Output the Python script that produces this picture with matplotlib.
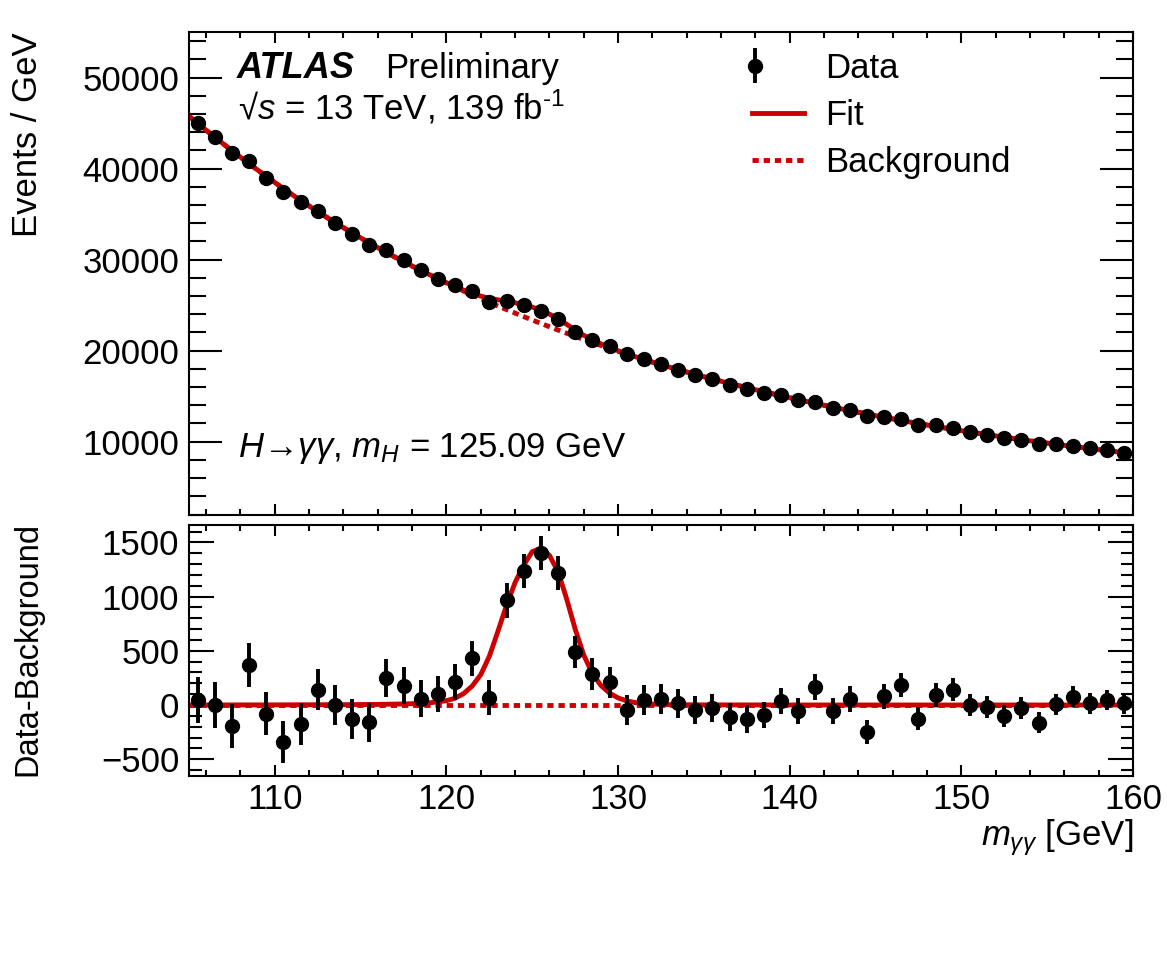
import numpy as np
import matplotlib.pyplot as plt
from matplotlib.ticker import MultipleLocator
from matplotlib.lines import Line2D
from matplotlib.legend_handler import HandlerErrorbar

plt.rcParams['font.family'] = ['Liberation Sans', 'DejaVu Sans']
plt.rcParams['mathtext.fontset'] = 'custom'
plt.rcParams['mathtext.rm'] = 'Liberation Sans'
plt.rcParams['mathtext.it'] = 'Liberation Sans:italic'
plt.rcParams['mathtext.bf'] = 'Liberation Sans:bold'

# bin centres, 1 GeV bins from 105 to 160
mass = np.arange(105.5, 160.0, 1.0)

# events per GeV
events = np.array([
    45000, 43480, 41720, 40840, 38950, 37410, 36310, 35360, 34040, 32770,
    31630, 31010, 29980, 28810, 27890, 27170, 26500, 25350, 25480, 24970,
    24380, 23430, 22040, 21160, 20470, 19590, 19040, 18500, 17900, 17320,
    16850, 16260, 15820, 15380, 15090, 14540, 14360, 13730, 13450, 12820,
    12740, 12460, 11870, 11800, 11500, 11060, 10770, 10410, 10190, 9780,
    9710, 9530, 9310, 9060, 8790])

# data - background
residual = np.array([
    46, 0, -197, 372, -80, -338, -175, 141, 0, -129,
    -160, 252, 178, 58, 98, 215, 431, 67, 966, 1237,
    1400, 1218, 492, 286, 209, -46, 43, 55, 15, -46,
    -31, -111, -129, -92, 37, -55, 163, -55, 55, -249,
    80, 182, -126, 92, 141, 0, -18, -102, -25, -163,
    6, 77, 15, 46, 15])

# background-only fit curve
bkg_x = np.concatenate([[105.0], mass, [160.0]])
bkg_y = np.array([
    45760, 44980, 43450, 41970, 40530, 39140, 37800, 36510, 35270, 34080,
    32935, 31835, 30780, 29770, 28800, 27870, 26975, 26115, 25300, 24510,
    23740, 22993, 22268, 21565, 20890, 20240, 19618, 19023, 18455, 17910,
    17385, 16881, 16398, 15935, 15485, 15047, 14620, 14204, 13800, 13415,
    13042, 12680, 12330, 11992, 11672, 11362, 11063, 10775, 10497, 10229,
    9969, 9718, 9476, 9242, 9014, 8792, 8685])

# signal component of the fit
sig_x = np.array([105, 110, 114, 116, 117, 118, 119, 119.5, 120, 120.5,
                  121, 121.5, 122, 122.5, 123, 123.5, 124, 124.5, 125, 125.5,
                  126, 126.5, 127, 127.5, 128, 128.5, 129, 129.5, 130, 130.5,
                  131, 132, 133, 135, 140, 160])
sig_y = np.array([0, 1, 3, 5, 8, 12, 20, 28, 40, 62,
                  105, 175, 280, 450, 680, 920, 1130, 1290, 1415, 1445,
                  1380, 1230, 980, 700, 460, 290, 180, 110, 65, 38,
                  22, 8, 3, 1, 0, 0])

stat_err = np.sqrt(events)

curve_x = np.union1d(bkg_x, sig_x)
fit_y = np.interp(curve_x, bkg_x, bkg_y) + np.interp(curve_x, sig_x, sig_y)

red = '#cc0000'
dots = (0, (1.3, 1.0))
FS = 25
MS = 10
ELW = 2.8

W, H = 1167, 957
fig = plt.figure(figsize=(W / 100, H / 100), dpi=100)
ax1 = fig.add_axes([189 / W, 1 - 515 / H, 944 / W, 483 / H])
ax2 = fig.add_axes([189 / W, 1 - 776 / H, 944 / W, 251 / H])

for ax in (ax1, ax2):
    ax.set_xlim(105, 160)
    ax.xaxis.set_major_locator(MultipleLocator(10))
    ax.xaxis.set_minor_locator(MultipleLocator(2))
    ax.tick_params(which='both', direction='in', top=True, right=True,
                   width=1.5, labelsize=FS, pad=7)
    ax.tick_params(axis='x', which='major', length=8, pad=5)
    ax.tick_params(axis='x', which='minor', length=4)
    for s in ax.spines.values():
        s.set_linewidth(1.5)

ax1.set_ylim(1950, 55000)
ax1.yaxis.set_major_locator(MultipleLocator(10000))
ax1.yaxis.set_minor_locator(MultipleLocator(2000))
ax1.tick_params(axis='y', which='major', length=24)
ax1.tick_params(axis='y', which='minor', length=12)
ax1.tick_params(axis='x', labelbottom=False)

ax2.set_ylim(-655, 1660)
ax2.yaxis.set_major_locator(MultipleLocator(500))
ax2.yaxis.set_minor_locator(MultipleLocator(100))
ax2.tick_params(axis='y', which='major', length=18)
ax2.tick_params(axis='y', which='minor', length=9)

# upper panel
ax1.plot(bkg_x, bkg_y, color=red, lw=3.5, ls=dots, zorder=1)
ax1.plot(curve_x, fit_y, color=red, lw=3.5, zorder=2)
ax1.errorbar(mass, events, yerr=stat_err, fmt='o', color='black', ms=MS,
             elinewidth=ELW, capsize=0, zorder=3)

# lower panel
ax2.axhline(0, color=red, lw=3.5, ls=dots, zorder=1)
ax2.plot(sig_x, sig_y, color=red, lw=3.5, zorder=2)
ax2.errorbar(mass, residual, yerr=stat_err, fmt='o', color='black', ms=MS,
             elinewidth=ELW, capsize=0, zorder=3)

def px(x, y):
    return x / W, 1 - y / H

fig.text(*px(237, 78), 'ATLAS', fontsize=26, fontweight='bold',
         fontstyle='italic', va='baseline')
fig.text(*px(385, 78), 'Preliminary', fontsize=FS, va='baseline')
fig.text(*px(238, 119), '\u221a$s$ = 13 TeV, 139 fb$^{\u2010\\mathrm{1}}$',
         fontsize=FS, va='baseline')
fig.text(*px(238, 457), '$H$\u2192$\\gamma\\gamma$, $m_{H}$ = 125.09 GeV',
         fontsize=FS, va='baseline')

fig.text(*px(28, 32), 'Events / GeV', fontsize=FS, rotation=90,
         ha='center', va='top')
fig.text(*px(28, 522), 'Data-Background', fontsize=23.5, rotation=90,
         ha='center', va='top')
fig.text(*px(1133, 838), r'$m_{\gamma\gamma}$ [GeV]', fontsize=FS,
         ha='right', va='center')


class LeftErrorbar(HandlerErrorbar):
    # ROOT-style legend: the data marker sits at the left of the handle box
    def get_xdata(self, legend, xdescent, ydescent, width, height, fontsize):
        x = np.array([-xdescent + 0.06 * width])
        return x, x


data_handle = ax1.errorbar([], [], yerr=[], fmt='o', color='black', ms=MS,
                           elinewidth=ELW, capsize=0)
handles = [
    data_handle,
    Line2D([], [], color=red, lw=3.5),
    Line2D([], [], color=red, lw=3.5, ls=dots),
]
ax1.legend(handles, ['Data', 'Fit', 'Background'], loc='upper left',
           bbox_to_anchor=px(752, 52), bbox_transform=fig.transFigure,
           frameon=False, fontsize=FS, handlelength=1.5, handletextpad=0.6,
           labelspacing=0.4, borderpad=0, borderaxespad=0,
           handler_map={type(data_handle): LeftErrorbar(numpoints=1)})

fig.savefig('out.png', dpi=100)
